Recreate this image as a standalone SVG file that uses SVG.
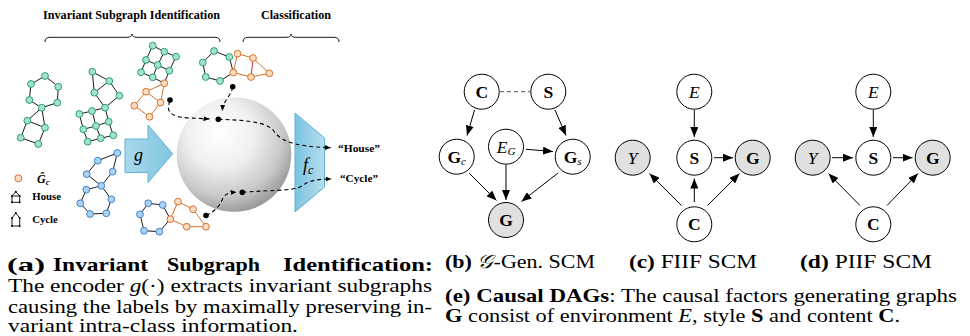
<svg xmlns="http://www.w3.org/2000/svg" width="970" height="336" viewBox="0 0 970 336">
<defs>
  <style>
    .serif{font-family:"Liberation Serif","Times New Roman",serif;fill:#000}
    .cap{font-family:"Liberation Serif","Times New Roman",serif;font-size:19px;fill:#000}
    .b{font-weight:bold}
    .i{font-style:italic}
    .e{stroke:#1a1a1a;stroke-width:1;fill:none}
    .eo{stroke:#d6722f;stroke-width:1;fill:none}
    .er{stroke:#e0302a;stroke-width:1;fill:none}
    .gn{fill:#a3e3cb;stroke:#2e9f75;stroke-width:1}
    .on{fill:#fcdcc0;stroke:#d6722f;stroke-width:1}
    .bn{fill:#acd2f3;stroke:#3d84c6;stroke-width:1}
    .dash{stroke:#000;stroke-width:1.1;fill:none;stroke-dasharray:4 3}
    .dag{stroke:#000;stroke-width:1;fill:none}
    .nd{fill:#fff;stroke:#000;stroke-width:1}
    .obs{fill:#e0e0e0;stroke:#000;stroke-width:1}
    .lbl{font-family:"Liberation Serif","Times New Roman",serif;font-size:17.5px;text-anchor:middle}
  </style>
  <marker id="ah" viewBox="0 0 10 8" refX="10" refY="4" markerWidth="10" markerHeight="8" markerUnits="userSpaceOnUse" orient="auto">
    <path d="M0,0 L10,4 L0,8 z" fill="#000"/>
  </marker>
  <marker id="sh" viewBox="0 0 6 5" refX="6" refY="2.5" markerWidth="6" markerHeight="5" markerUnits="userSpaceOnUse" orient="auto">
    <path d="M0,0 L6,2.5 L0,5 z" fill="#000"/>
  </marker>
  <radialGradient id="sphere" cx="0.42" cy="0.36" r="0.72" fx="0.36" fy="0.3">
    <stop offset="0" stop-color="#ffffff"/>
    <stop offset="0.4" stop-color="#f0f0f0"/>
    <stop offset="0.72" stop-color="#c9c9c9"/>
    <stop offset="1" stop-color="#858585"/>
  </radialGradient>
  <linearGradient id="gArrow" x1="0" y1="0" x2="1" y2="0">
    <stop offset="0" stop-color="#a9d8ec"/>
    <stop offset="1" stop-color="#80c5e0"/>
  </linearGradient>
  <linearGradient id="fTrap" x1="0" y1="0" x2="1" y2="0">
    <stop offset="0" stop-color="#7cc3df"/>
    <stop offset="1" stop-color="#b5deef"/>
  </linearGradient>
</defs>

<!-- headings and braces -->
<g id="headings">
  <text class="serif b" x="43" y="19" font-size="12" textLength="177" lengthAdjust="spacingAndGlyphs">Invariant Subgraph Identification</text>
  <text class="serif b" x="261" y="19" font-size="12" textLength="70" lengthAdjust="spacingAndGlyphs">Classification</text>
  <path class="e" d="M45,42 Q45,37.3 50,37.3 L127,37.3 Q132,37.3 132,34 Q132,37.3 137,37.3 L215,37.3 Q220,37.3 220,42"/>
  <path class="e" d="M243,42 Q243,37.3 248,37.3 L286,37.3 Q291,37.3 291,34 Q291,37.3 296,37.3 L334,37.3 Q339,37.3 339,42"/>
</g>

<!-- green graph: hexagon with a house -->
<g id="graph-a">
  <path class="e" d="M45,76 L31,84 L29.3,100 L41.7,107.7 L57.3,102.7 L58.3,86.7 Z M41.7,107.7 L27.3,120.7 L45,127.7 Z M27.3,120.7 L20.7,137.7 L38.3,144 L45,127.7"/>
  <g class="gn">
    <circle cx="45" cy="76" r="3.4"/><circle cx="31" cy="84" r="3.4"/><circle cx="29.3" cy="100" r="3.4"/>
    <circle cx="41.7" cy="107.7" r="3.4"/><circle cx="57.3" cy="102.7" r="3.4"/><circle cx="58.3" cy="86.7" r="3.4"/>
    <circle cx="27.3" cy="120.7" r="3.4"/><circle cx="45" cy="127.7" r="3.4"/><circle cx="38.3" cy="144" r="3.4"/>
    <circle cx="20.7" cy="137.7" r="3.4"/>
  </g>
</g>

<!-- green graph: house with a grid -->
<g id="graph-b">
  <path class="e" d="M92.3,71.7 L109.3,81 L94.3,92.7 Z M109.3,81 L119.3,95.7 L105,107.7 L94.3,92.7
    M79.3,114 L92,111 L105,107.7 M83.3,129.3 L96,126 L108.7,121.7 M87.7,141.7 L100.7,138.3 L113.3,135.3
    M79.3,114 L83.3,129.3 L87.7,141.7 M92,111 L96,126 L100.7,138.3 M105,107.7 L108.7,121.7 L113.3,135.3"/>
  <g class="gn">
    <circle cx="92.3" cy="71.7" r="3.4"/><circle cx="109.3" cy="81" r="3.4"/><circle cx="94.3" cy="92.7" r="3.4"/>
    <circle cx="119.3" cy="95.7" r="3.4"/><circle cx="105" cy="107.7" r="3.4"/>
    <circle cx="79.3" cy="114" r="3.4"/><circle cx="92" cy="111" r="3.4"/>
    <circle cx="83.3" cy="129.3" r="3.4"/><circle cx="96" cy="126" r="3.4"/><circle cx="108.7" cy="121.7" r="3.4"/>
    <circle cx="87.7" cy="141.7" r="3.4"/><circle cx="100.7" cy="138.3" r="3.4"/><circle cx="113.3" cy="135.3" r="3.4"/>
  </g>
</g>

<!-- green grid with an orange house -->
<g id="graph-c">
  <path class="e" d="M152.7,45.7 L164.3,51.7 L176,56.7 M146,60 L157.7,65 L169.3,70.7 M141,72.3 L152.7,77.3 L164.3,83.3
    M152.7,45.7 L146,60 L141,72.3 M164.3,51.7 L157.7,65 L152.7,77.3 M176,56.7 L169.3,70.7 L164.3,83.3"/>
  <path class="eo" d="M164.3,83.3 L146,91.7 L160.5,102.5 Z M146,91.7 L134.3,105.7 L149.5,116.8 L160.5,102.5"/>
  <g class="gn">
    <circle cx="152.7" cy="45.7" r="3.4"/><circle cx="164.3" cy="51.7" r="3.4"/><circle cx="176" cy="56.7" r="3.4"/>
    <circle cx="146" cy="60" r="3.4"/><circle cx="157.7" cy="65" r="3.4"/><circle cx="169.3" cy="70.7" r="3.4"/>
    <circle cx="141" cy="72.3" r="3.4"/><circle cx="152.7" cy="77.3" r="3.4"/>
  </g>
  <g class="on">
    <circle cx="164.3" cy="83.3" r="3.4"/><circle cx="146" cy="91.7" r="3.4"/><circle cx="160.5" cy="102.5" r="3.4"/>
    <circle cx="134.3" cy="105.7" r="3.4"/><circle cx="149.5" cy="116.8" r="3.4"/>
  </g>
</g>

<!-- green hexagon with an orange house -->
<g id="graph-d">
  <path class="e" d="M214,51 L229.3,57 L233.3,72.5 L220,81 L205.7,77 L202.8,62.5 Z"/>
  <path class="eo" d="M233.3,72.5 L237.5,53.7 L253,58 L269.3,73.3 L251,77 Z"/>
  <path class="er" d="M253,58 L251,77"/>
  <g class="gn">
    <circle cx="214" cy="51" r="3.4"/><circle cx="229.3" cy="57" r="3.4"/><circle cx="220" cy="81" r="3.4"/>
    <circle cx="205.7" cy="77" r="3.4"/><circle cx="202.8" cy="62.5" r="3.4"/>
  </g>
  <g class="on">
    <circle cx="233.3" cy="72.5" r="3.4"/><circle cx="237.5" cy="53.7" r="3.4"/><circle cx="253" cy="58" r="3.4"/>
    <circle cx="269.3" cy="73.3" r="3.4"/><circle cx="251" cy="77" r="3.4"/>
  </g>
</g>

<!-- blue pentagon joined to a hexagon -->
<g id="graph-e">
  <path class="e" d="M117.3,153 L97.7,160.7 L86.7,174.2 L101.3,185.8 L112.7,171.7 Z M101.3,185.8 L86.3,189.7 L80.3,203.3 L90,214 L106.3,213.3 L111.3,199.3 Z"/>
  <g class="bn">
    <circle cx="117.3" cy="153" r="3.4"/><circle cx="97.7" cy="160.7" r="3.4"/><circle cx="112.7" cy="171.7" r="3.4"/>
    <circle cx="86.7" cy="174.2" r="3.4"/><circle cx="101.3" cy="185.8" r="3.4"/><circle cx="86.3" cy="189.7" r="3.4"/>
    <circle cx="111.3" cy="199.3" r="3.4"/><circle cx="80.3" cy="203.3" r="3.4"/><circle cx="106.3" cy="213.3" r="3.4"/>
    <circle cx="90" cy="214" r="3.4"/>
  </g>
</g>

<!-- blue hexagon with an orange cycle -->
<g id="graph-f">
  <path class="e" d="M148.3,203.3 L162.7,205 L170.3,219.2 L159.3,231.7 L144,230.7 L140,214.3 Z"/>
  <path class="eo" d="M170.3,219.2 L178,201.7 L193,209.2 L206,226.7 L186.7,226.7 Z"/>
  <g class="bn">
    <circle cx="148.3" cy="203.3" r="3.4"/><circle cx="162.7" cy="205" r="3.4"/><circle cx="159.3" cy="231.7" r="3.4"/>
    <circle cx="144" cy="230.7" r="3.4"/><circle cx="140" cy="214.3" r="3.4"/>
  </g>
  <g class="on">
    <circle cx="170.3" cy="219.2" r="3.4"/><circle cx="178" cy="201.7" r="3.4"/><circle cx="193" cy="209.2" r="3.4"/>
    <circle cx="206" cy="226.7" r="3.4"/><circle cx="186.7" cy="226.7" r="3.4"/>
  </g>
</g>

<!-- legend -->
<g id="legend">
  <circle class="on" cx="18.3" cy="178.3" r="3.5"/>
  <text class="serif b i" x="37" y="182.5" font-size="12">Ĝ<tspan font-size="8.5" dy="2">c</tspan></text>
  <path class="e" d="M15.8,191.7 L12,196 L12,202.3 L19.7,202.3 L19.7,196 Z M12,196 L19.7,196"/>
  <g fill="#000"><circle cx="15.8" cy="191.7" r="1"/><circle cx="12" cy="196" r="1"/><circle cx="19.7" cy="196" r="1"/><circle cx="12" cy="202.3" r="1"/><circle cx="19.7" cy="202.3" r="1"/></g>
  <text class="serif b" x="32.3" y="200" font-size="10.8" textLength="28.7" lengthAdjust="spacingAndGlyphs">House</text>
  <path class="e" d="M15.8,213 L12,218 L12,226 L19.7,226 L19.7,218 Z"/>
  <g fill="#000"><circle cx="15.8" cy="213" r="1"/><circle cx="12" cy="218" r="1"/><circle cx="19.7" cy="218" r="1"/><circle cx="12" cy="226" r="1"/><circle cx="19.7" cy="226" r="1"/></g>
  <text class="serif b" x="32.3" y="222.5" font-size="10.8" textLength="25.5" lengthAdjust="spacingAndGlyphs">Cycle</text>
</g>

<!-- encoder g -->
<g id="encoder-g">
  <path d="M125,139 L148,139 L148,125 L172.7,153.8 L148,182.6 L148,172.6 L125,172.6 Z" fill="url(#gArrow)" stroke="#5fb3d5" stroke-width="1"/>
  <text class="serif i" x="138.5" y="160.5" font-size="18" text-anchor="middle">g</text>
</g>

<!-- latent sphere -->
<g id="sphere-node">
  <circle cx="234" cy="154.5" r="57.3" fill="url(#sphere)"/>
</g>

<!-- classifier f_c -->
<g id="classifier">
  <path d="M295,113 L324.5,138 L324.5,187 L295,212 Z" fill="url(#fTrap)" stroke="#5fb3d5" stroke-width="1"/>
  <text class="serif i" x="303" y="171" font-size="18">f<tspan font-size="12" dy="3">c</tspan></text>
</g>

<!-- dashed embedding paths -->
<g id="connectors-a">
  <path class="dash" d="M170,101 C166,110 168,117 190,118 L209.5,118.9" marker-end="url(#sh)"/>
  <path class="dash" d="M232.7,87 C231,97 223,100 222.3,111" marker-end="url(#sh)"/>
  <path class="dash" d="M218.3,119.3 C245,120 266,122 273,130 C280,140 290,146.5 331,147.7" marker-end="url(#sh)"/>
  <path class="dash" d="M206,215.5 C216,211 220,205 223,198 C226,193 230,192.5 236.5,192.3" marker-end="url(#sh)"/>
  <path class="dash" d="M242.3,192.3 C270,190 292,191 300,187 C308,182 312,179 331.5,179" marker-end="url(#sh)"/>
  <g fill="#000">
    <circle cx="170" cy="100" r="2.8"/>
    <circle cx="232.7" cy="86.7" r="2.8"/>
    <circle cx="218.3" cy="119.3" r="2.8"/>
    <circle cx="206" cy="215.5" r="2.8"/>
    <circle cx="242.3" cy="192.3" r="2.8"/>
  </g>
</g>
<g id="class-labels">
  <text class="serif b" x="338" y="151.7" font-size="11" textLength="42" lengthAdjust="spacingAndGlyphs">“House”</text>
  <text class="serif b" x="340" y="181.7" font-size="11" textLength="38" lengthAdjust="spacingAndGlyphs">“Cycle”</text>
</g>

<!-- (b) G-Gen SCM -->
<g id="scm-b">
  <g id="b-C"><circle class="nd" cx="481.7" cy="91.7" r="17.5"/><text class="lbl b" x="481.7" y="97.7">C</text></g>
  <g id="b-S"><circle class="nd" cx="548.3" cy="91.7" r="17.5"/><text class="lbl b" x="548.3" y="97.7">S</text></g>
  <g id="b-Gc"><circle class="nd" cx="456.7" cy="156.7" r="17.5"/><text class="lbl" x="456.7" y="162.7"><tspan class="b">G</tspan><tspan class="i" font-size="11" dy="2.5">c</tspan></text></g>
  <g id="b-EG"><circle class="nd" cx="506" cy="146.7" r="17.5"/><text class="lbl" x="506" y="152.7"><tspan class="i">E</tspan><tspan class="i" font-size="11" dy="2.5">G</tspan></text></g>
  <g id="b-Gs"><circle class="nd" cx="572.7" cy="156.7" r="17.5"/><text class="lbl" x="572.7" y="162.7"><tspan class="b">G</tspan><tspan class="i" font-size="11" dy="2.5">s</tspan></text></g>
  <g id="b-G"><circle class="obs" cx="506" cy="220" r="17.5"/><text class="lbl b" x="506" y="226">G</text></g>
</g>

<!-- (c) FIIF SCM -->
<g id="scm-c">
  <g id="c-E"><circle class="nd" cx="694.3" cy="91.7" r="17.5"/><text class="lbl i" x="694.3" y="97.7">E</text></g>
  <g id="c-S"><circle class="nd" cx="694.3" cy="157.7" r="17.5"/><text class="lbl b" x="694.3" y="163.7">S</text></g>
  <g id="c-G"><circle class="obs" cx="752.7" cy="157.7" r="17.5"/><text class="lbl b" x="752.7" y="163.7">G</text></g>
  <g id="c-Y"><circle class="obs" cx="632.7" cy="157.7" r="17.5"/><text class="lbl i" x="632.7" y="163.7">Y</text></g>
  <g id="c-C"><circle class="nd" cx="694.3" cy="224.3" r="17.5"/><text class="lbl b" x="694.3" y="230.3">C</text></g>
</g>

<!-- (d) PIIF SCM -->
<g id="scm-d">
  <g id="d-E"><circle class="nd" cx="873.3" cy="91.7" r="17.5"/><text class="lbl i" x="873.3" y="97.7">E</text></g>
  <g id="d-S"><circle class="nd" cx="873.3" cy="157.7" r="17.5"/><text class="lbl b" x="873.3" y="163.7">S</text></g>
  <g id="d-G"><circle class="obs" cx="932.7" cy="157.7" r="17.5"/><text class="lbl b" x="932.7" y="163.7">G</text></g>
  <g id="d-Y"><circle class="obs" cx="812.7" cy="157.7" r="17.5"/><text class="lbl i" x="812.7" y="163.7">Y</text></g>
  <g id="d-C"><circle class="nd" cx="873.3" cy="224.3" r="17.5"/><text class="lbl b" x="873.3" y="230.3">C</text></g>
</g>

<!-- causal edges -->
<g id="connectors-dag">
  <path d="M500,91.7 L530,91.7" stroke="#555" stroke-width="1" stroke-dasharray="4 3"/>
  <g class="dag" marker-end="url(#ah)">
    <path d="M474.5,110 L467,135.5"/>
    <path d="M555,110 L566,135.5"/>
    <path d="M526,149.3 L553,151.5"/>
    <path d="M506,165 L506,200"/>
    <path d="M469.3,173.3 L496.5,200.5"/>
    <path d="M558,173 L521.5,201.5"/>

    <path d="M694.3,110 L694.3,137"/>
    <path d="M714,157.7 L733,157.7"/>
    <path d="M694.3,202 L694.3,178.5"/>
    <path d="M681.5,205.5 L649.5,173.5"/>
    <path d="M707.5,205.5 L739.5,173.5"/>

    <path d="M873.3,110 L873.3,137"/>
    <path d="M832,157.7 L853,157.7"/>
    <path d="M893,157.7 L912.5,157.7"/>
    <path d="M860,205.5 L828.5,173.5"/>
    <path d="M887,205.5 L918,173.5"/>
  </g>
</g>

<!-- captions -->
<g id="caption-a">
  <text class="cap b" x="7" y="271" textLength="38" lengthAdjust="spacingAndGlyphs">(a)</text>
  <text class="cap b" x="53" y="271" textLength="95" lengthAdjust="spacingAndGlyphs">Invariant</text>
  <text class="cap b" x="167" y="271" textLength="93" lengthAdjust="spacingAndGlyphs">Subgraph</text>
  <text class="cap b" x="283" y="271" textLength="150" lengthAdjust="spacingAndGlyphs">Identification:</text>
  <text class="cap" x="8" y="292" textLength="424" lengthAdjust="spacingAndGlyphs">The encoder <tspan class="i">g</tspan>(·) extracts invariant subgraphs</text>
  <text class="cap" x="8" y="312.5" textLength="424" lengthAdjust="spacingAndGlyphs">causing the labels by maximally preserving in-</text>
  <text class="cap" x="8" y="332" textLength="290" lengthAdjust="spacingAndGlyphs">variant intra-class information.</text>
</g>
<g id="caption-e">
  <text class="cap" x="445" y="268" textLength="150" lengthAdjust="spacingAndGlyphs"><tspan class="b">(b)</tspan> <tspan font-family="DejaVu Serif, DejaVu Sans, serif" class="i">𝒢</tspan>-Gen. SCM</text>
  <text class="cap" x="629" y="268" textLength="128" lengthAdjust="spacingAndGlyphs"><tspan class="b">(c)</tspan> FIIF SCM</text>
  <text class="cap" x="800" y="268" textLength="132" lengthAdjust="spacingAndGlyphs"><tspan class="b">(d)</tspan> PIIF SCM</text>
  <text class="cap" x="445" y="302" textLength="512" lengthAdjust="spacingAndGlyphs"><tspan class="b">(e) Causal DAGs</tspan>: The causal factors generating graphs</text>
  <text class="cap" x="445" y="322" textLength="455" lengthAdjust="spacingAndGlyphs"><tspan class="b">G</tspan> consist of environment <tspan class="i">E</tspan>, style <tspan class="b">S</tspan> and content <tspan class="b">C</tspan>.</text>
</g>
</svg>
